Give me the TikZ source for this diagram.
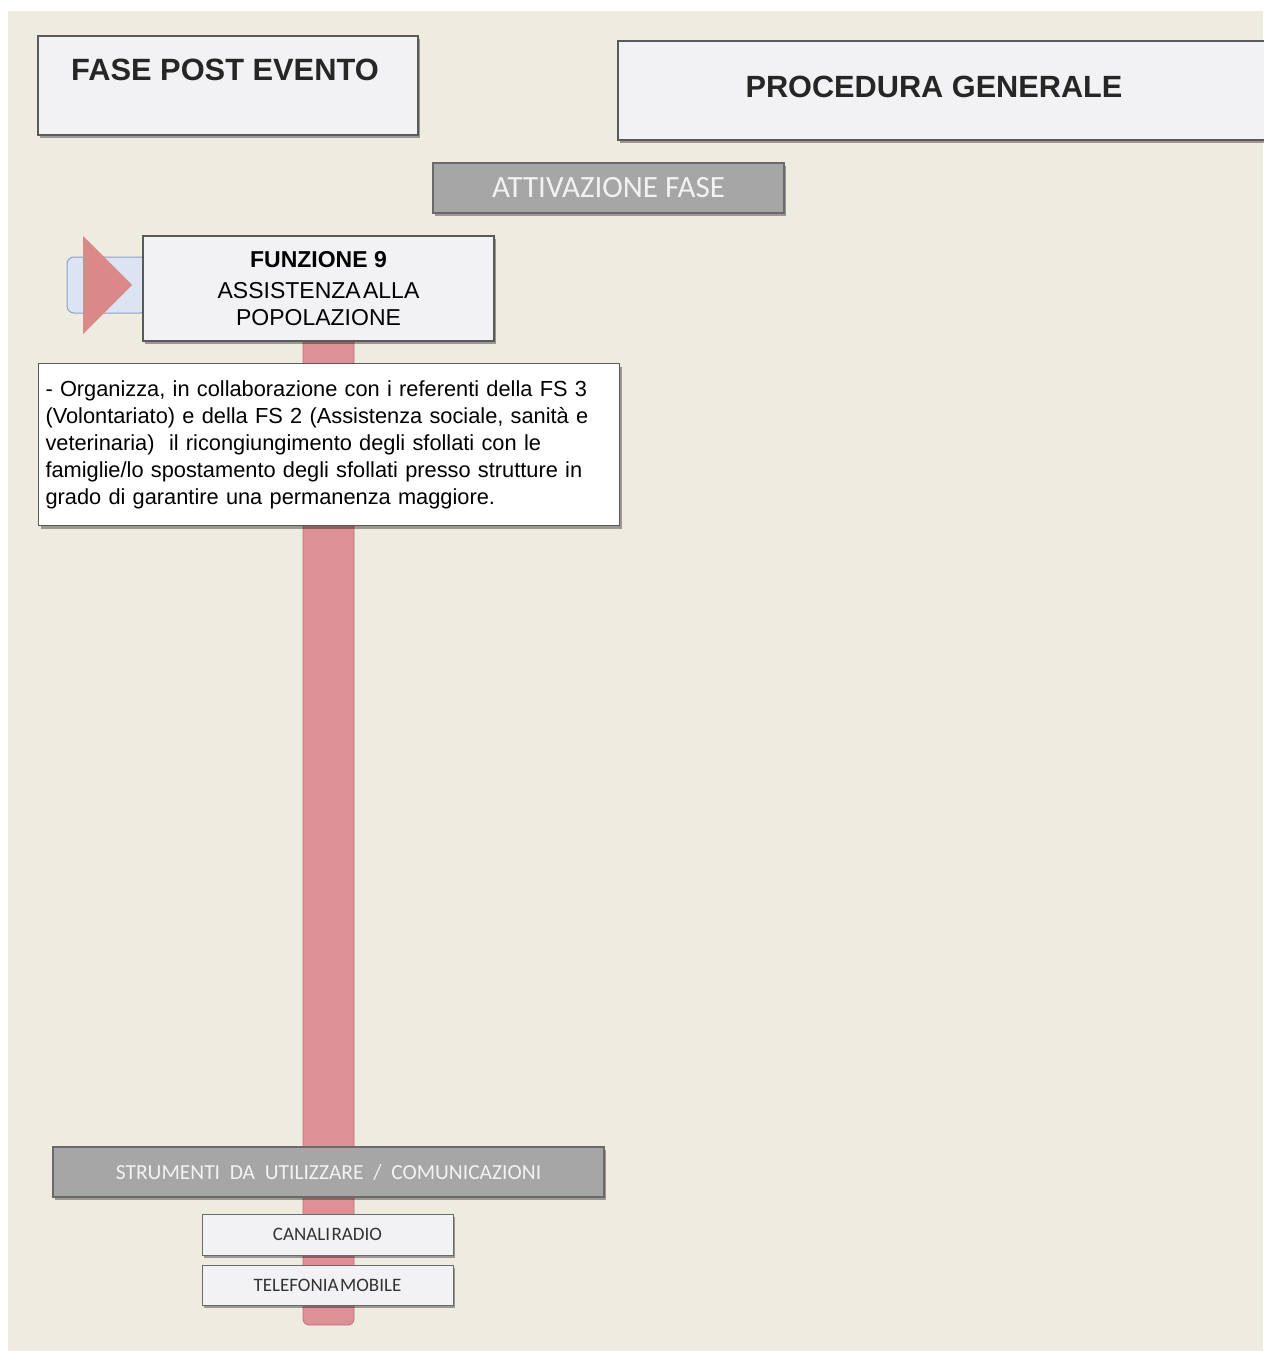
\documentclass[tikz,border=0pt]{standalone}
\usepackage{fontspec}
\setmainfont{Liberation Sans}
\newfontfamily\calib{Carlito}
\usetikzlibrary{shadows}
\definecolor{bgbeige}{HTML}{EEEBE0}
\definecolor{boxfill}{HTML}{F2F2F4}
\definecolor{boxline}{HTML}{5A5A5A}
\definecolor{grayfill}{HTML}{A6A6A6}
\definecolor{grayline}{HTML}{6A6A6A}
\definecolor{graytext}{HTML}{F2F2F2}
\definecolor{barred}{HTML}{DD9196}
\definecolor{barline}{HTML}{B97378}
\definecolor{trired}{HTML}{DB8889}
\definecolor{bluefill}{HTML}{DCE4F4}
\definecolor{blueline}{HTML}{8EA0C8}
\begin{document}
\begin{tikzpicture}[x=1pt,y=-1pt,
  shd/.style={drop shadow={shadow xshift=2pt,shadow yshift=-3pt,fill=black,opacity=0.35}},
  whitebox/.style={draw=boxline,line width=1.2pt,fill=boxfill,shd,inner sep=0pt},
  graybox/.style={draw=grayline,line width=1.2pt,fill=grayfill,shd,inner sep=0pt,text=graytext,font=\calib},
  smallbox/.style={draw=grayline,line width=1pt,fill=boxfill,shd,inner sep=0pt,text=black!80,font=\calib\fontsize{19}{21}\selectfont},
]
\useasboundingbox (0,0) rectangle (1263,1351);
\fill[white] (0,0) rectangle (1263,1351);
\fill[bgbeige] (8,11) rectangle (1263,1351);

% vertical bar
\node[draw=barline,line width=0.8pt,fill=barred,rounded corners=6pt,minimum width=51pt,minimum height=1030pt,inner sep=0pt] (bar) at (328.5,810) {};

% header boxes
\node[whitebox,minimum width=380pt,minimum height=99pt] (fase) at (228,85.5) {};
\node[font=\bfseries\fontsize{30.8}{33}\selectfont,text=black!85] (fasetxt) at (225,70) {FASE POST EVENTO};
\node[whitebox,minimum width=660pt,minimum height=99pt] (proc) at (948,90.5) {};
\node[font=\bfseries\fontsize{30.7}{33}\selectfont,text=black!85] (proctxt) at (934,87) {PROCEDURA GENERALE};

\node[graybox,minimum width=351pt,minimum height=50pt,font=\calib\fontsize{31}{33}\selectfont] (att) at (608.5,188) {ATTIVAZIONE FASE};

% function box with marker
\node[draw=blueline,line width=1pt,fill=bluefill,rounded corners=7pt,minimum width=80pt,minimum height=56pt,inner sep=0pt] (tab) at (107,285) {};
\fill[trired] (83,236) -- (132,285) -- (83,334) -- cycle;
\node[whitebox,minimum width=351pt,minimum height=105pt,align=center,font=\fontsize{23}{27}\selectfont] (f9) at (318.5,288.5)
  {\textbf{FUNZIONE 9}\\[4pt]ASSISTENZA\hspace{0.1em}ALLA\\POPOLAZIONE};

% description box
\node[draw=boxline,line width=1pt,fill=white,shd,anchor=north west,minimum width=581pt,minimum height=162pt,inner xsep=7pt,inner ysep=0pt,text width=567pt,align=left,font=\fontsize{21.8}{27}\selectfont] (desc) at (38,363)
  {- Organizza, in collaborazione con i referenti della FS 3\\
   (Volontariato) e della FS 2 (Assistenza sociale, sanità e\\
   veterinaria)\ \ il ricongiungimento degli sfollati con le\\
   famiglie/lo spostamento degli sfollati presso strutture in\\
   grado di garantire una permanenza maggiore.};

% tools
\node[graybox,minimum width=551pt,minimum height=50pt,font=\calib\fontsize{21.5}{23}\selectfont] (tools) at (328.5,1172) {STRUMENTI\hspace{0.45em}DA\hspace{0.45em}UTILIZZARE\hspace{0.45em}/\hspace{0.45em}COMUNICAZIONI};
\node[smallbox,minimum width=251pt,minimum height=41pt] (radio) at (327.5,1234.5) {CANALI\hspace{0.08em}RADIO};
\node[smallbox,minimum width=251pt,minimum height=40pt] (tel) at (327.5,1285) {TELEFONIA\hspace{0.08em}MOBILE};
\end{tikzpicture}
\end{document}
